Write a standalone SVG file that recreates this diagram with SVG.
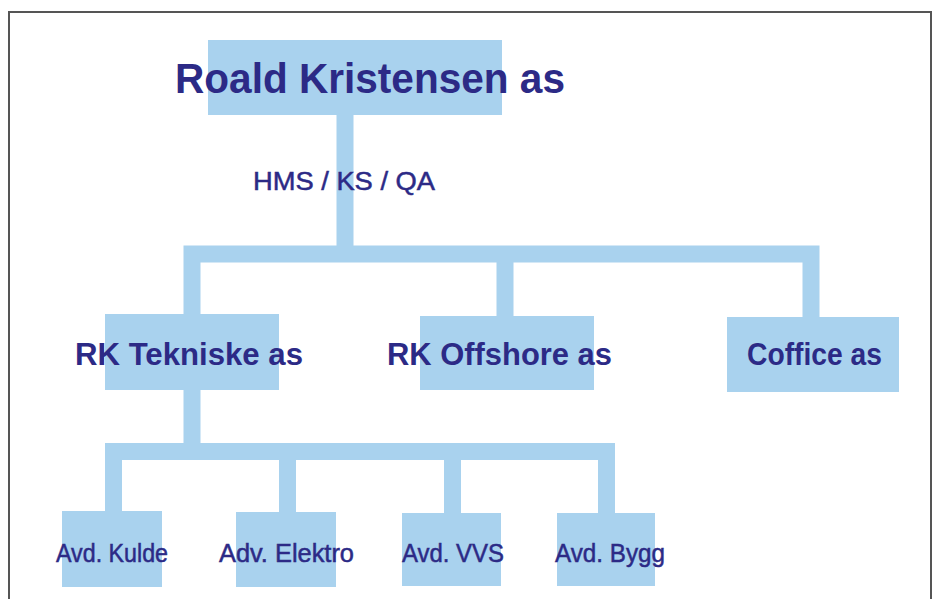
<svg xmlns="http://www.w3.org/2000/svg" width="936" height="599" viewBox="0 0 936 599">
  <style>
    .box { fill: #a9d2ee; }
    .conn { fill: none; stroke: #a9d2ee; stroke-width: 17; stroke-linejoin: miter; stroke-linecap: butt; }
    .t { font-family: "Liberation Sans", Arial, sans-serif; fill: #2c2a86; }
    .b { font-weight: bold; }
    .m { stroke: #2c2a86; stroke-width: 0.5; }
  </style>
  <rect x="0" y="0" width="936" height="599" fill="#ffffff"/>
  <rect x="9" y="12" width="922" height="600" fill="none" stroke="#555555" stroke-width="2"/>
  <g id="connectors">
    <path class="conn" d="M345,115 V254"/>
    <path class="conn" d="M192,316 V254 H811 V318"/>
    <path class="conn" d="M505,254 V318"/>
    <path class="conn" d="M192,389 V451.5"/>
    <path class="conn" d="M113.5,513 V451.5 H606.5 V514"/>
    <path class="conn" d="M287.5,451.5 V513"/>
    <path class="conn" d="M452.5,451.5 V514"/>
  </g>
  <g id="roald">
    <rect class="box" x="208" y="40" width="294" height="75"/>
    <text class="t b" x="175" y="93" font-size="42" textLength="390" lengthAdjust="spacingAndGlyphs">Roald Kristensen as</text>
  </g>
  <g id="hms">
    <text class="t m" x="253" y="190" font-size="26" textLength="182" lengthAdjust="spacingAndGlyphs">HMS / KS / QA</text>
  </g>
  <g id="tekniske">
    <rect class="box" x="105" y="314" width="174" height="76"/>
    <text class="t b" x="75" y="365" font-size="32" textLength="228" lengthAdjust="spacingAndGlyphs">RK Tekniske as</text>
  </g>
  <g id="offshore">
    <rect class="box" x="420" y="316" width="174" height="74"/>
    <text class="t b" x="387" y="365" font-size="32" textLength="225" lengthAdjust="spacingAndGlyphs">RK Offshore as</text>
  </g>
  <g id="coffice">
    <rect class="box" x="727" y="317" width="172" height="75"/>
    <text class="t b" x="747" y="365" font-size="32" textLength="135" lengthAdjust="spacingAndGlyphs">Coffice as</text>
  </g>
  <g id="kulde">
    <rect class="box" x="62" y="511" width="100" height="76"/>
    <text class="t m" x="56" y="562" font-size="26" textLength="112" lengthAdjust="spacingAndGlyphs">Avd. Kulde</text>
  </g>
  <g id="elektro">
    <rect class="box" x="236" y="512" width="100" height="75"/>
    <text class="t m" x="219" y="562" font-size="26" textLength="135" lengthAdjust="spacingAndGlyphs">Adv. Elektro</text>
  </g>
  <g id="vvs">
    <rect class="box" x="402" y="513" width="99" height="73"/>
    <text class="t m" x="402" y="562" font-size="26" textLength="102" lengthAdjust="spacingAndGlyphs">Avd. VVS</text>
  </g>
  <g id="bygg">
    <rect class="box" x="557" y="513" width="98" height="73"/>
    <text class="t m" x="555" y="562" font-size="26" textLength="110" lengthAdjust="spacingAndGlyphs">Avd. Bygg</text>
  </g>
</svg>
